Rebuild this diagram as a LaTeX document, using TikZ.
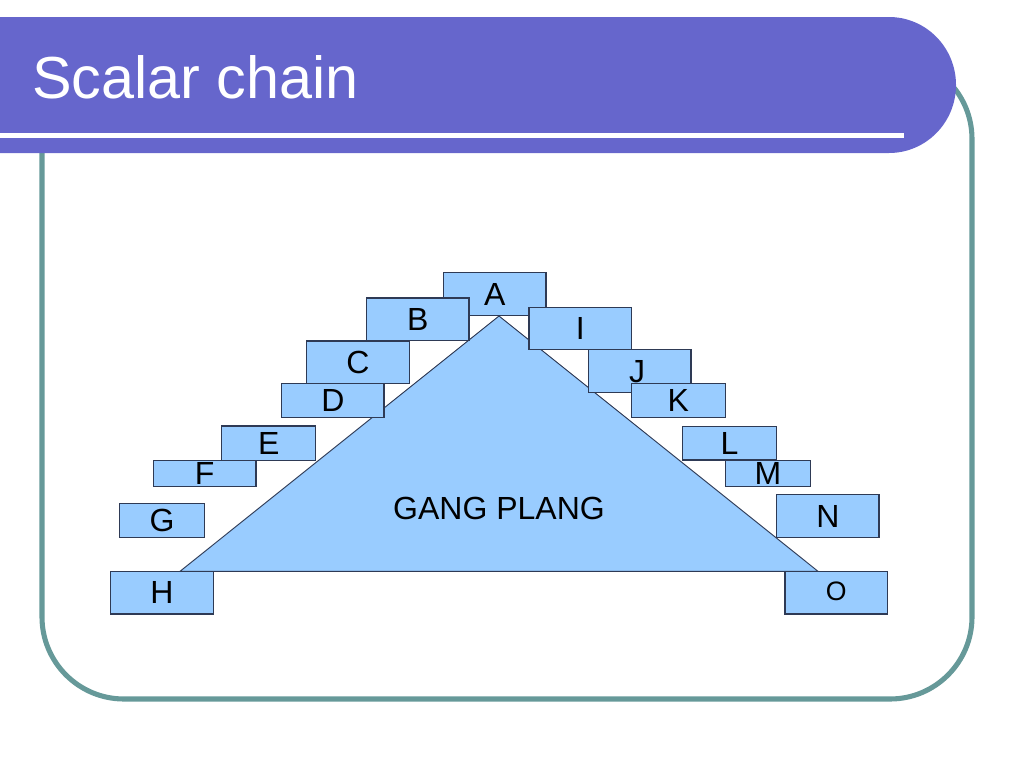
\documentclass[tikz,border=0pt]{standalone}
\usepackage{fontspec}
\setmainfont{Liberation Sans}
\definecolor{headerblue}{HTML}{6666CC}
\definecolor{frameteal}{HTML}{669999}
\definecolor{boxfill}{HTML}{99CCFF}
\definecolor{boxline}{HTML}{2E3A55}
\tikzset{
  box/.style={draw=boxline, fill=boxfill, line width=0.8pt, inner sep=0pt,
    font=\fontsize{24}{24}\selectfont, text=black},
  tri/.style={draw=boxline, fill=boxfill, line width=0.7pt, line join=miter},
}
\newcommand\slidebox[7][]{%
  \pgfmathsetmacro\bw{(#5-#3)*0.75}%
  \pgfmathsetmacro\bh{(#6-#4)*0.75}%
  \pgfmathsetmacro\bcx{(#3+#5)/2}%
  \pgfmathsetmacro\bcy{(#4+#6)/2}%
  \node[box, minimum width=\bw pt, minimum height=\bh pt, #1] (#2) at (\bcx,\bcy) {#7};}
\begin{document}
\begin{tikzpicture}[x=0.75pt, y=-0.75pt]
\useasboundingbox (0,0) rectangle (1024,768);
% frame
\draw[frameteal, line width=3.8pt, rounded corners=61.5pt] (42,57) rectangle (972,699);
% header
\fill[headerblue] (-2,17) -- (889,17) arc[start angle=-90, end angle=90, x radius=67, y radius=68] -- (-2,153) -- cycle;
\draw[white, line width=3.6pt] (-2,135.7) -- (904,135.7);
\node[anchor=base west, inner sep=0pt, text=white, font=\fontsize{44.5}{44.5}\selectfont] (title) at (32,98.3) {Scalar chain};
% triangle
\coordinate (apex) at (499,316);
\coordinate (bl) at (180,571.3);
\coordinate (br) at (818,571.3);
\draw[tri] (apex) -- (bl) -- (br) -- cycle;
\node[font=\fontsize{24}{24}\selectfont, inner sep=0pt] (gang) at (499,508.3) {GANG PLANG};
% boxes
\slidebox{A}{443.5}{272.7}{546}{315.5}{A}
\slidebox{B}{366.7}{298}{469}{340.7}{B}
\slidebox{C}{306.7}{341}{409.3}{383.3}{\raisebox{-1.5pt}{C}}
\slidebox{D}{281.7}{383.3}{384}{417.7}{\raisebox{-0.8pt}{D}}
\slidebox{E}{221.7}{426}{315.7}{460.7}{\raisebox{-2pt}{E}}
\slidebox{F}{153.3}{460.7}{256}{486.3}{F}
\slidebox{G}{119.3}{503.3}{204.7}{537.3}{G}
\slidebox{H}{110.7}{571.3}{213.3}{614}{H}
\slidebox{I}{529}{307.3}{631.7}{349.3}{\raisebox{-1.2pt}{I}}
\slidebox{J}{588.5}{349.5}{691}{392.3}{}
\slidebox{K}{631.3}{383.3}{725.3}{417.7}{\raisebox{-1.8pt}{K}}
\node[font=\fontsize{24}{24}\selectfont, inner sep=0pt] (Jt) at (637,371.5) {J};
\slidebox{L}{682.7}{426.7}{776.3}{460}{L}
\slidebox{M}{725.3}{460.5}{810.7}{486.3}{\raisebox{-1.2pt}{M}}
\slidebox{N}{776.7}{494.7}{879}{537.3}{\raisebox{-1.1pt}{N}}
\slidebox[font=\fontsize{20}{20}\selectfont]{O}{785}{571.3}{887.3}{614}{\raisebox{2.4pt}{O}}
\end{tikzpicture}
\end{document}
